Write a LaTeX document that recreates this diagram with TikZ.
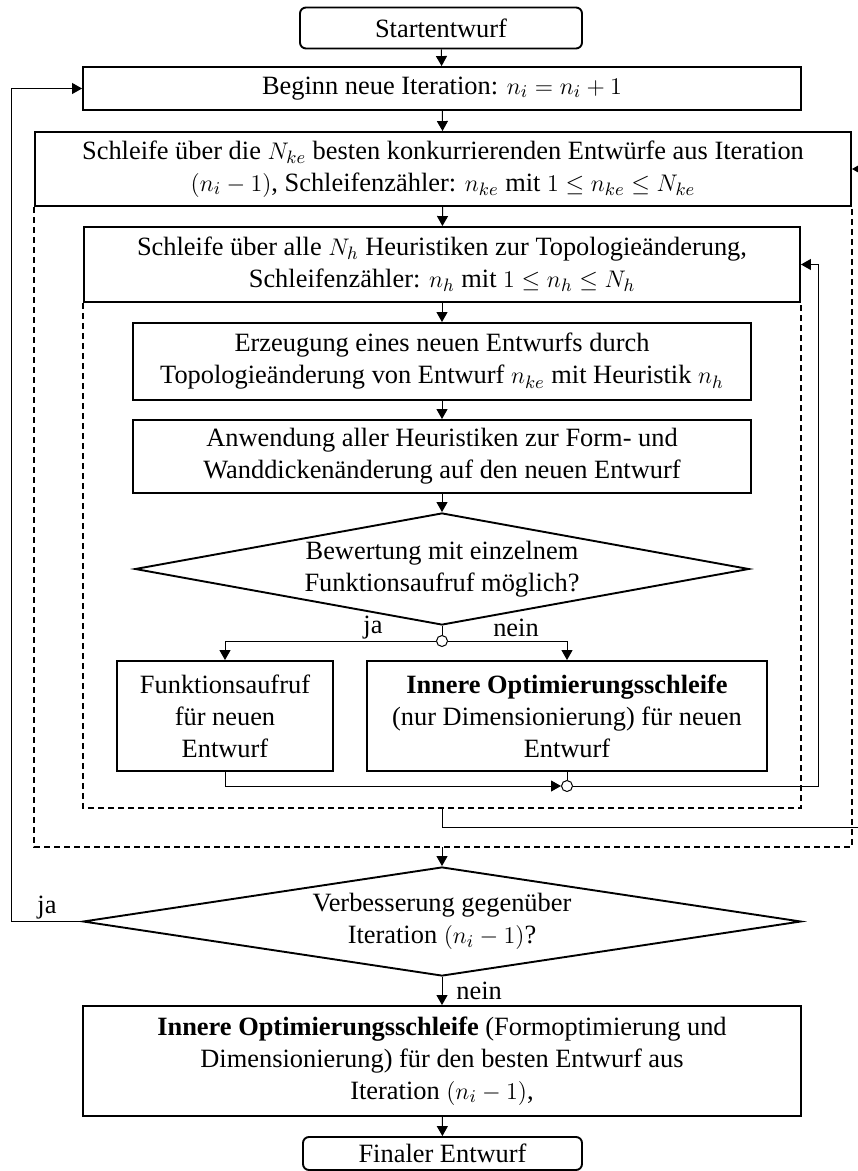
\documentclass[tikz,border=0pt]{standalone}
\usepackage{fontspec}
\setmainfont{Liberation Serif}
\usetikzlibrary{arrows.meta,shapes.geometric}
\begin{document}
\begin{tikzpicture}[x=0.5pt,y=-0.5pt,
  font=\fontsize{13.2}{16}\selectfont,
  box/.style={draw, line width=0.95pt, rectangle, align=center, inner sep=0pt},
  rbox/.style={box, rounded corners=3pt},
  dec/.style={draw, line width=0.95pt, diamond, aspect=5.5, align=center, inner sep=0pt},
  junc/.style={draw, line width=0.5pt, circle, fill=white, minimum size=5.5pt, inner sep=0pt},
  conn/.style={line width=0.5pt},
  arr/.style={conn, -{Triangle[length=5pt,width=5.5pt]}},
  loopbox/.style={line width=0.6pt, dash pattern=on 3pt off 2pt},
  lbl/.style={inner sep=0pt}
]
\useasboundingbox (0,0) rectangle (857,1171);

% main flow
\node[rbox, minimum width=141pt, minimum height=20.5pt] (start) at (441,28) {Startentwurf};
\node[box, minimum width=359pt, minimum height=21.5pt] (beginn) at (442,88.5)
  {Beginn neue Iteration: $n_i = n_i + 1$};
\node[box, minimum width=408pt, minimum height=37pt] (nke) at (443,169)
  {Schleife über die $N_{ke}$ besten konkurrierenden Entwürfe aus Iteration\\
   $(n_i - 1)$, Schleifenzähler: $n_{ke}$ mit $1 \le n_{ke} \le N_{ke}$};
\node[box, minimum width=358pt, minimum height=37.5pt] (nh) at (442,264.5)
  {Schleife über alle $N_h$ Heuristiken zur Topologieänderung,\\
   Schleifenzähler: $n_h$ mit $1 \le n_h \le N_h$};
\node[box, minimum width=309pt, minimum height=38.5pt] (erz) at (442,361.5)
  {Erzeugung eines neuen Entwurfs durch\\
   Topologieänderung von Entwurf $n_{ke}$ mit Heuristik $n_h$};
\node[box, minimum width=309pt, minimum height=36.5pt] (anw) at (442,456.5)
  {Anwendung aller Heuristiken zur Form- und\\
   Wanddickenänderung auf den neuen Entwurf};
\node[dec, minimum width=307pt, minimum height=56pt] (dia1) at (442,569)
  {Bewertung mit einzelnem\\ Funktionsaufruf möglich?};
\node[junc] (circ1) at (442,641) {};
\node[box, minimum width=108pt, minimum height=55pt] (fa) at (225,716)
  {Funktionsaufruf\\ für neuen\\ Entwurf};
\node[box, minimum width=200pt, minimum height=55pt] (ios) at (567,716)
  {\textbf{Innere Optimierungsschleife}\\ (nur Dimensionierung) für neuen\\ Entwurf};
\node[junc] (circ2) at (567,786) {};
\node[dec, minimum width=359pt, minimum height=54.5pt] (dia2) at (442,921.5)
  {Verbesserung gegenüber\\ Iteration $(n_i - 1)$?};
\node[box, minimum width=359pt, minimum height=55pt] (big) at (442,1061)
  {\textbf{Innere Optimierungsschleife} (Formoptimierung und\\
   Dimensionierung) für den besten Entwurf aus\\
   Iteration $(n_i - 1)$,};
\node[rbox, minimum width=139.5pt, minimum height=16.5pt] (final) at (442.5,1153.5) {Finaler Entwurf};

% loop regions
\coordinate (outerbot) at (442,847);
\coordinate (innerbot) at (442,808);
\draw[loopbox] (nke.south west) -- (nke.south west |- outerbot)
  -- (nke.south east |- outerbot) -- (nke.south east);
\draw[loopbox] (nh.south west) -- (nh.south west |- innerbot)
  -- (nh.south east |- innerbot) -- (nh.south east);

% connectors
\draw[arr] (start) -- (beginn);
\draw[arr] (beginn) -- (nke);
\draw[arr] (nke) -- (nh);
\draw[arr] (nh) -- (erz);
\draw[arr] (erz) -- (anw);
\draw[arr] (anw) -- (dia1);
\draw[conn] (dia1.south) -- (circ1);
\draw[arr] (circ1) -| (fa.north);
\draw[arr] (circ1) -| (ios.north);
\node[lbl] (ja1) at (373,628) {ja};
\node[lbl] (nein1) at (516,628) {nein};
\draw[arr] (fa.south) |- (circ2);
\draw[conn] (ios.south) -- (circ2);
\coordinate (ret) at (818,786);
\draw[arr] (circ2) -- (ret) |- (nh.east);
\coordinate (farright) at (872,827);
\draw[arr] (innerbot) |- (farright) |- (nke.east);
\draw[arr] (outerbot) -- (dia2.north);
\coordinate (jl) at (11,921.5);
\draw[arr] (dia2.west) -- (jl) |- (beginn.west);
\node[lbl] (ja2) at (47,908) {ja};
\draw[arr] (dia2.south) -- (big.north);
\node[lbl, anchor=west] (nein2) at (456,991) {nein};
\draw[arr] (big) -- (final);
\end{tikzpicture}
\end{document}
